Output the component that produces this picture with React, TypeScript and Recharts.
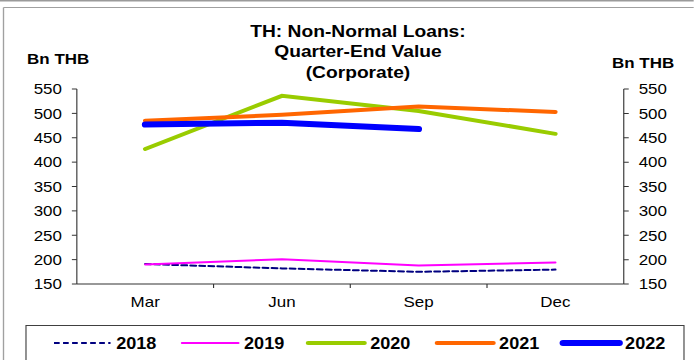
import React from "react";
import { LineChart, Line, XAxis, YAxis } from "recharts";

// ---- data ----
const months = ["Mar", "Jun", "Sep", "Dec"];
const s2018 = [191, 182, 175, 179.5];
const s2019 = [190, 201, 188, 194];
const s2020 = [427, 536, 505, 458];
const s2021 = [485, 497, 514, 503];
const s2022: (number | null)[] = [477, 481, 468, null];
const yTicks = [150, 200, 250, 300, 350, 400, 450, 500, 550];
const titleLines = ["TH: Non-Normal Loans:", "Quarter-End Value", "(Corporate)"];
const unitLabel = "Bn THB";

const data = months.map((m, i) => ({
  month: m,
  y2018: s2018[i],
  y2019: s2019[i],
  y2020: s2020[i],
  y2021: s2021[i],
  y2022: s2022[i],
}));

const series = [
  { key: "y2018", name: "2018", color: "#000080", width: 2, dash: "5 3" },
  { key: "y2019", name: "2019", color: "#FF00FF", width: 2, dash: undefined },
  { key: "y2020", name: "2020", color: "#99CC00", width: 4, dash: undefined },
  { key: "y2021", name: "2021", color: "#FF6600", width: 4, dash: undefined },
  { key: "y2022", name: "2022", color: "#0000FF", width: 6, dash: undefined },
];

// ---- layout (unscaled coordinates; the whole drawing is stretched horizontally) ----
const SX = 1.13;
const W = 614;
const H = 360;
const PLOT_LEFT = 68.1;
const PLOT_RIGHT = 552.2;
const BW = (PLOT_RIGHT - PLOT_LEFT) / months.length;
const FONT = "'Liberation Sans', Arial, sans-serif";
const AXIS_COLOR = "#333";
const legendLineX = [47.8, 161, 272.6, 386.7, 498.2];
const LEGEND_LINE_LEN = 50;

const XTick = (props: any) => {
  const { x, y, payload, index } = props;
  return (
    <g>
      {index > 0 && (
        <line x1={x - BW / 2} x2={x - BW / 2} y1={284} y2={288} stroke={AXIS_COLOR} />
      )}
      <text
        x={x}
        y={307.5}
        textAnchor="middle"
        fontFamily={FONT}
        fontSize={15}
        fill="#000"
      >
        {payload.value}
      </text>
    </g>
  );
};

export default function App() {
  return (
    <div
      style={{
        position: "absolute",
        left: 0,
        top: 0,
        width: W,
        height: H,
        transform: `scaleX(${SX})`,
        transformOrigin: "0 0",
        background: "#fff",
      }}
    >
      <LineChart
        width={W}
        height={H}
        data={data}
        margin={{ top: 89, right: 22, bottom: 46, left: 28 }}
      >
        <XAxis
          dataKey="month"
          height={30}
          padding={{ left: BW / 2, right: BW / 2 }}
          stroke={AXIS_COLOR}
          tickLine={false}
          tick={<XTick />}
          interval={0}
        />
        <YAxis
          yAxisId="left"
          orientation="left"
          type="number"
          width={40}
          domain={[150, 550]}
          ticks={yTicks}
          interval={0}
          stroke={AXIS_COLOR}
          tickSize={4.4}
          tickMargin={8.8}
          tick={{ fontFamily: FONT, fontSize: 15, fill: "#000" }}
        />
        <YAxis
          yAxisId="right"
          orientation="right"
          type="number"
          width={40}
          domain={[150, 550]}
          ticks={yTicks}
          interval={0}
          stroke={AXIS_COLOR}
          tickSize={4.4}
          tickMargin={8.8}
          tick={{ fontFamily: FONT, fontSize: 15, fill: "#000" }}
        />
        <Line
          yAxisId="right"
          type="linear"
          dataKey="y2018"
          stroke="none"
          strokeOpacity={0}
          dot={false}
          activeDot={false}
          legendType="none"
          isAnimationActive={false}
        />
        {series.map((s) => (
          <Line
            key={s.key}
            yAxisId="left"
            type="linear"
            dataKey={s.key}
            name={s.name}
            stroke={s.color}
            strokeWidth={s.width}
            strokeDasharray={s.dash}
            strokeLinecap="round"
            dot={false}
            activeDot={false}
            isAnimationActive={false}
          />
        ))}
      </LineChart>
      <svg
        width={W}
        height={H}
        style={{ position: "absolute", left: 0, top: 0, pointerEvents: "none" }}
      >
        <line x1={0} x2={W} y1={0.5} y2={0.5} stroke="#9a9a9a" strokeWidth={2} />
        <line x1={3.1} x2={W} y1={7.5} y2={7.5} stroke="#a0a0a0" strokeWidth={1.2} />
        <line x1={3.1} x2={3.1} y1={7.5} y2={H} stroke="#a0a0a0" strokeWidth={1.2} />
        {titleLines.map((t, i) => (
          <text
            key={t}
            x={316.8}
            y={[37, 57.5, 78][i]}
            textAnchor="middle"
            fontFamily={FONT}
            fontWeight="bold"
            fontSize={17}
            fill="#000"
          >
            {t}
          </text>
        ))}
        <text x={24} y={64} fontFamily={FONT} fontWeight="bold" fontSize={15} fill="#000">
          {unitLabel}
        </text>
        <text x={541.6} y={68} fontFamily={FONT} fontWeight="bold" fontSize={15} fill="#000">
          {unitLabel}
        </text>
        <rect x={23} y={325.5} width={582.3} height={60} fill="none" stroke="#404040" strokeWidth={1} />
        {series.map((s, i) => (
          <g key={s.key}>
            <line
              x1={legendLineX[i]}
              x2={legendLineX[i] + LEGEND_LINE_LEN}
              y1={343}
              y2={343}
              stroke={s.color}
              strokeWidth={s.width}
              strokeDasharray={s.dash}
              strokeLinecap={s.dash ? "butt" : "round"}
            />
            <text
              x={legendLineX[i] + LEGEND_LINE_LEN + 5}
              y={348.8}
              fontFamily={FONT}
              fontWeight="bold"
              fontSize={16}
              fill="#000"
            >
              {s.name}
            </text>
          </g>
        ))}
      </svg>
    </div>
  );
}
